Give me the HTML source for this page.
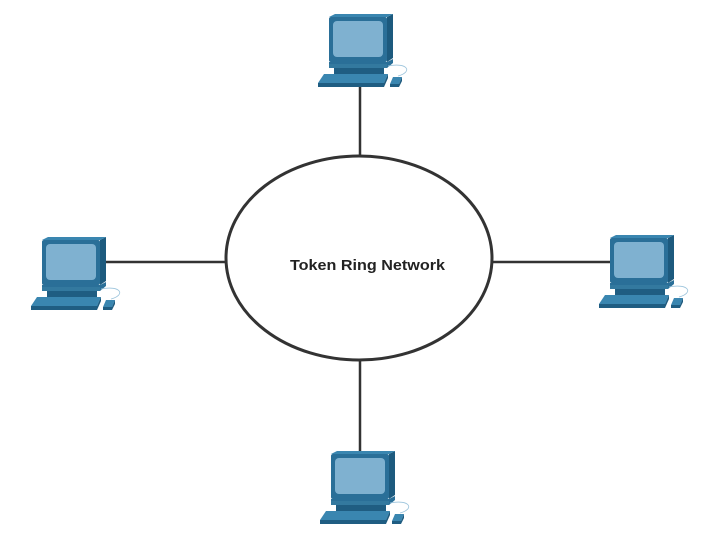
<!DOCTYPE html>
<html><head><meta charset="utf-8"><style>
html,body{margin:0;padding:0;background:#fff;}
svg{display:block;}
</style></head><body>
<svg width="727" height="540" viewBox="0 0 727 540" xmlns="http://www.w3.org/2000/svg">
<defs>
<g id="pc">
  <polygon points="69,3 75,0 75,44 69,48" fill="#1d5a7e"/>
  <polygon points="11,3 17,0 75,0 69,3" fill="#3a86b0"/>
  <rect x="11" y="3" width="58" height="45" rx="2" fill="#2a6f98"/>
  <rect x="15" y="7" width="50" height="36" rx="4" fill="#7fb1d0"/>
  <polygon points="11,48 69,48 75,45 75,49 69,54 11,54" fill="#2a6f98"/>
  <rect x="11" y="50" width="58" height="4" fill="#33799f"/>
  <rect x="16" y="54" width="50" height="6" fill="#1f5d82"/>
  <polygon points="6,60 70,60 66,69 0,69" fill="#3a86b0"/>
  <polygon points="0,69 66,69 66,73 0,73" fill="#1f5d82"/>
  <polygon points="66,69 70,60 70,64 66,73" fill="#1d5a7e"/>
  <polygon points="75,63 84,63 81,70 72,70" fill="#3a86b0"/>
  <polygon points="72,70 81,70 81,73 72,73" fill="#1f5d82"/>
  <polygon points="81,70 84,63 84,67 81,73" fill="#1d5a7e"/>
  <path d="M70,52 C90,48 95,58 80,62" fill="none" stroke="#9cc4dc" stroke-width="0.8"/>
</g>
</defs>
<g stroke="#333" stroke-width="2.5">
  <line x1="360" y1="87" x2="360" y2="156"/>
  <line x1="360" y1="360" x2="360" y2="452"/>
  <line x1="105" y1="262" x2="226" y2="262"/>
  <line x1="492" y1="262" x2="610" y2="262"/>
</g>
<ellipse cx="359" cy="258" rx="133" ry="102" fill="#fff" stroke="#333" stroke-width="3"/>
<text x="290" y="270" textLength="155" lengthAdjust="spacingAndGlyphs" font-family="Liberation Sans, sans-serif" font-weight="bold" font-size="15" fill="#222">Token Ring Network</text>
<use href="#pc" x="318" y="14"/>
<use href="#pc" x="31" y="237"/>
<use href="#pc" x="599" y="235"/>
<use href="#pc" x="320" y="451"/>
</svg>
</body></html>
